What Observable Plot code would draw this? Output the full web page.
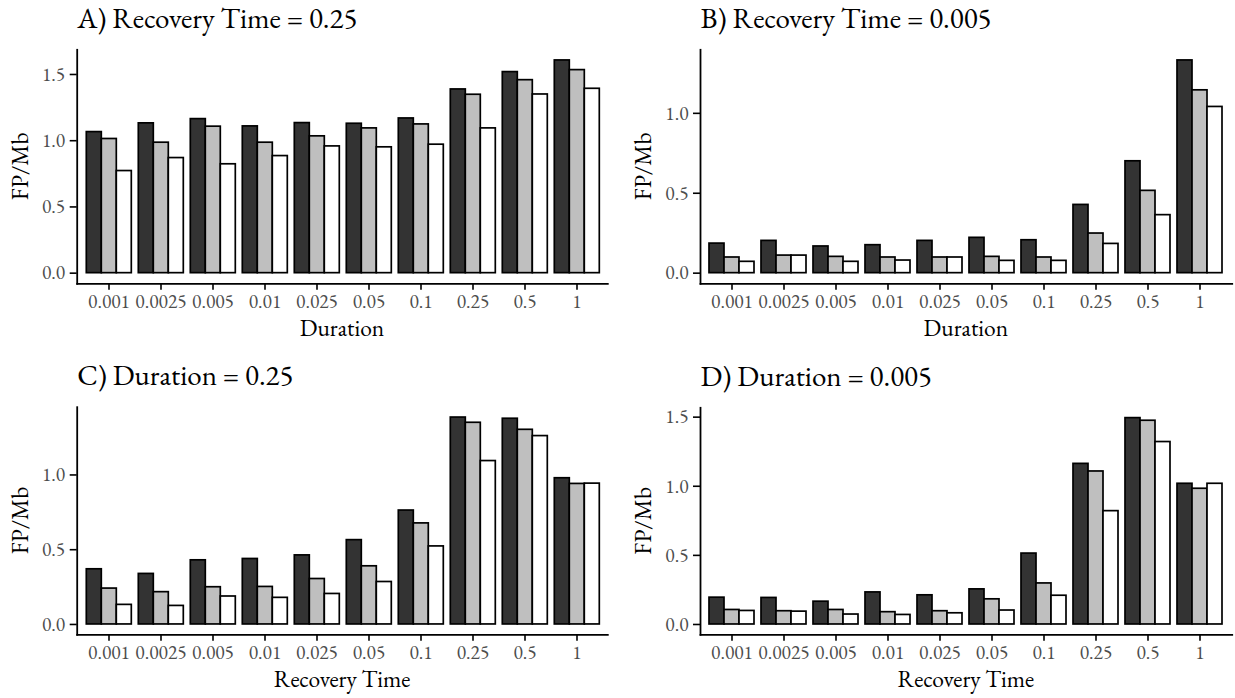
<!DOCTYPE html>
<html><head><meta charset="utf-8">
<script src="https://cdn.jsdelivr.net/npm/d3@7"></script>
<script src="https://cdn.jsdelivr.net/npm/@observablehq/plot@0.6"></script>
<style>
body{margin:0;background:#fff;}
#wrap{position:relative;width:1235px;height:698px;overflow:hidden;font-family:'EB Garamond';}
.cell{position:absolute;}
.cell svg{position:absolute;left:0;top:0;}
#overlay{position:absolute;left:0;top:0;pointer-events:none;}
</style></head><body><div id="wrap"></div>
<script>
// categories (x tick labels)
const categories = ["0.001","0.0025","0.005","0.01","0.025","0.05","0.1","0.25","0.5","1"];
const seriesNames = ["series1","series2","series3"];
const seriesColors = ["#333333","#bfbfbf","#ffffff"];
const yTickValues = [0, 0.5, 1, 1.5];

// A) Recovery Time = 0.25, by Duration
const aDark  = [1.065,1.131,1.163,1.108,1.133,1.128,1.168,1.387,1.518,1.606];
const aGray  = [1.013,0.985,1.106,0.985,1.033,1.093,1.123,1.347,1.457,1.533];
const aWhite = [0.771,0.869,0.822,0.884,0.957,0.950,0.970,1.093,1.349,1.392];
// B) Recovery Time = 0.005, by Duration
const bDark  = [0.185,0.202,0.167,0.175,0.202,0.221,0.206,0.427,0.700,1.331];
const bGray  = [0.098,0.110,0.102,0.098,0.098,0.102,0.098,0.248,0.515,1.144];
const bWhite = [0.071,0.110,0.071,0.079,0.098,0.077,0.077,0.183,0.363,1.040];
// C) Duration = 0.25, by Recovery Time
const cDark  = [0.369,0.338,0.429,0.438,0.462,0.564,0.762,1.384,1.376,0.978];
const cGray  = [0.240,0.216,0.249,0.251,0.304,0.389,0.676,1.349,1.302,0.940];
const cWhite = [0.131,0.124,0.187,0.178,0.204,0.284,0.522,1.093,1.260,0.942];
// D) Duration = 0.005, by Recovery Time
const dDark  = [0.194,0.192,0.165,0.232,0.211,0.254,0.513,1.162,1.493,1.018];
const dGray  = [0.105,0.096,0.105,0.089,0.096,0.182,0.297,1.107,1.474,0.982];
const dWhite = [0.098,0.093,0.072,0.069,0.081,0.101,0.208,0.820,1.320,1.018];

const panels = [
  {title:"A) Recovery Time = 0.25", xLabel:"Duration", vals:[aDark,aGray,aWhite], left:0, top:40, width:617, height:310, mt:9.3, mb:66.7, ml:76.7, mr:9.7},
  {title:"B) Recovery Time = 0.005", xLabel:"Duration", vals:[bDark,bGray,bWhite], left:617, top:40, width:618, height:310, mt:9.3, mb:66.7, ml:83, mr:3.3},
  {title:"C) Duration = 0.25", xLabel:"Recovery Time", vals:[cDark,cGray,cWhite], left:0, top:395, width:617, height:303, mt:11.7, mb:63.7, ml:76.7, mr:9.7},
  {title:"D) Duration = 0.005", xLabel:"Recovery Time", vals:[dDark,dGray,dWhite], left:617, top:395, width:618, height:303, mt:12.3, mb:63.7, ml:83, mr:3.3}
];

const wrap = document.getElementById("wrap");
const font = "EB Garamond";
const ns = "http://www.w3.org/2000/svg";
const overlay = document.createElementNS(ns, "svg");
overlay.setAttribute("id","overlay");
overlay.setAttribute("width",1235);
overlay.setAttribute("height",698);
overlay.setAttribute("font-family", font);

function addText(txt, x, y, size, anchor, rotate){
  const t = document.createElementNS(ns, "text");
  t.textContent = txt;
  t.setAttribute("x", x); t.setAttribute("y", y);
  t.setAttribute("font-size", size);
  t.setAttribute("font-family", font);
  t.setAttribute("fill", "#000");
  t.setAttribute("text-anchor", anchor);
  if (rotate) t.setAttribute("transform", `rotate(-90 ${x} ${y})`);
  overlay.appendChild(t);
}

for (const p of panels) {
  const data = [];
  categories.forEach((c, i) => seriesNames.forEach((s, j) => data.push({cat: c, ser: s, v: p.vals[j][i]})));
  const maxV = d3.max(data, d => d.v);
  const yDomain = [-0.05 * maxV, 1.05 * maxV];
  const ticks = yTickValues.filter(t => t >= yDomain[0] && t <= yDomain[1]);
  const common = {
    width: p.width, height: p.height,
    marginLeft: p.ml, marginRight: p.mr, marginTop: p.mt, marginBottom: p.mb,
    style: {fontFamily: font, fontSize: "19.5px", background: "transparent", overflow: "visible"}
  };
  // bars + x (category) axis
  const bars = Plot.plot({
    ...common,
    fx: {domain: categories, paddingInner: 0.1, paddingOuter: 0.15, label: null},
    x: {domain: seriesNames, padding: 0, axis: null},
    y: {domain: yDomain, axis: null},
    color: {domain: seriesNames, range: seriesColors},
    marks: [
      Plot.barY(data, {fx: "cat", x: "ser", y: "v", fill: "ser", stroke: "black", strokeWidth: 1.7}),
      Plot.axisFx({anchor: "bottom", tickSize: 6.5, tickPadding: 4, label: null, fill: "#4d4d4d", stroke: "black", strokeWidth: 1.6, fontFamily: font, fontSize: 19.5})
    ]
  });
  // y axis + axis lines (same y scale)
  const axes = Plot.plot({
    ...common,
    y: {domain: yDomain, label: null},
    marks: [
      Plot.axisY({ticks: ticks, tickSize: 7, tickPadding: 5, tickFormat: d3.format(".1f"), label: null, fill: "#4d4d4d", stroke: "black", strokeWidth: 1.6, fontFamily: font, fontSize: 19.5}),
      Plot.frame({anchor: "left", stroke: "black", strokeWidth: 1.8}),
      Plot.frame({anchor: "bottom", stroke: "black", strokeWidth: 1.8})
    ]
  });
  for (const svg of [bars, axes]) svg.setAttribute("font-family", font);
  const cell = document.createElement("div");
  cell.className = "cell";
  cell.style.left = p.left + "px";
  cell.style.top = p.top + "px";
  cell.style.width = p.width + "px";
  cell.style.height = p.height + "px";
  cell.appendChild(bars);
  cell.appendChild(axes);
  wrap.appendChild(cell);

  const frameLeft = p.left + p.ml;
  const frameRight = p.left + p.width - p.mr;
  const frameTop = p.top + p.mt;
  const frameBottom = p.top + p.height - p.mb;
  addText(p.title, frameLeft + 0.5, frameTop - 21.8, 29, "start", false);
  addText(p.xLabel, (frameLeft + frameRight) / 2, frameBottom + 53, 23.5, "middle", false);
  addText("FP/Mb", frameLeft - 49, (frameTop + frameBottom) / 2, 23.5, "middle", true);
}
wrap.appendChild(overlay);
</script>
</body></html>
